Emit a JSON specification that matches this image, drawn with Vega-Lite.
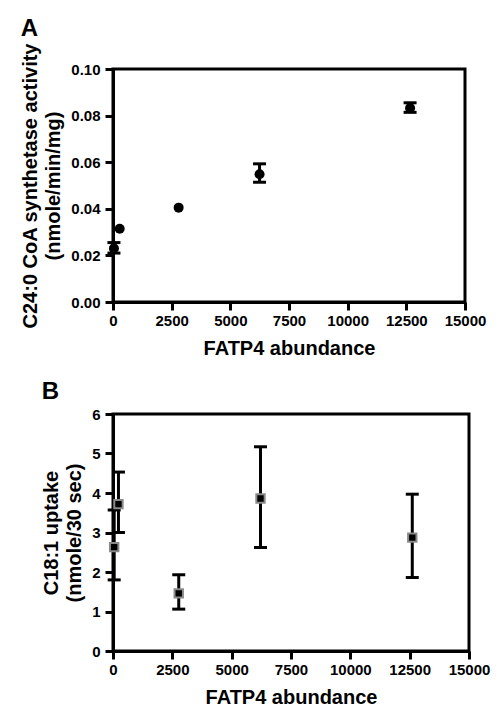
{
  "$schema": "https://vega.github.io/schema/vega-lite/v6.json",
  "padding": {"left": 19, "top": 15, "right": 5, "bottom": 0},
  "spacing": 18,
  "config": {
    "font": "Liberation Sans",
    "view": {"stroke": "black", "strokeWidth": 3},
    "axis": {
      "domainColor": "black", "domainWidth": 3, "tickColor": "black", "tickWidth": 3, "tickSize": 8,
      "grid": false, "labelOverlap": false, "labelFlush": false, "labelFont": "Liberation Sans", "labelFontWeight": "bold", "labelFontSize": 15, "labelColor": "black",
      "titleFont": "Liberation Sans", "titleFontWeight": "bold", "titleFontSize": 20, "titleColor": "black", "titleLimit": 500
    },
    "title": {"font": "Liberation Sans", "fontWeight": "bold", "fontSize": 24, "color": "black", "anchor": "start", "frame": "bounds"}
  },
  "datasets": {
    "a": [
      {"fatp4": 40, "value": 0.023, "lo": 0.021, "hi": 0.0255},
      {"fatp4": 285, "value": 0.0314, "lo": null, "hi": null},
      {"fatp4": 2797, "value": 0.0405, "lo": null, "hi": null},
      {"fatp4": 6245, "value": 0.0548, "lo": 0.0514, "hi": 0.0593},
      {"fatp4": 12660, "value": 0.0832, "lo": 0.0814, "hi": 0.0855}
    ],
    "b": [
      {"fatp4": 50, "value": 2.63, "lo": 1.8, "hi": 3.57},
      {"fatp4": 230, "value": 3.72, "lo": 3.0, "hi": 4.53},
      {"fatp4": 2770, "value": 1.46, "lo": 1.06, "hi": 1.93},
      {"fatp4": 6215, "value": 3.86, "lo": 2.62, "hi": 5.17},
      {"fatp4": 12610, "value": 2.87, "lo": 1.86, "hi": 3.97}
    ]
  },
  "vconcat": [
    {
      "title": {"text": "A", "offset": 2},
      "width": 352,
      "height": 233,
      "data": {"name": "a"},
      "layer": [
        {
          "transform": [{"filter": "datum.lo != null"}],
          "mark": {"type": "rule", "color": "black", "strokeWidth": 3},
          "encoding": {
            "x": {"field": "fatp4", "type": "quantitative", "scale": {"domain": [0, 15000], "nice": false, "zero": false}},
            "y": {"field": "lo", "type": "quantitative", "scale": {"domain": [0, 0.1], "nice": false}},
            "y2": {"field": "hi"}
          }
        },
        {
          "transform": [{"filter": "datum.lo != null"}],
          "mark": {"type": "tick", "orient": "horizontal", "color": "black", "size": 13, "thickness": 3, "opacity": 1},
          "encoding": {
            "x": {"field": "fatp4", "type": "quantitative"},
            "y": {"field": "lo", "type": "quantitative"}
          }
        },
        {
          "transform": [{"filter": "datum.lo != null"}],
          "mark": {"type": "tick", "orient": "horizontal", "color": "black", "size": 13, "thickness": 3, "opacity": 1},
          "encoding": {
            "x": {"field": "fatp4", "type": "quantitative"},
            "y": {"field": "hi", "type": "quantitative"}
          }
        },
        {
          "mark": {"type": "point", "shape": "circle", "filled": true, "color": "black", "size": 100, "opacity": 1},
          "encoding": {
            "x": {"field": "fatp4", "type": "quantitative"},
            "y": {"field": "value", "type": "quantitative"}
          }
        }
      ],
      "encoding": {
        "x": {"field": "fatp4", "type": "quantitative", "scale": {"domain": [0, 15000], "nice": false, "zero": false},
          "axis": {"title": "FATP4 abundance", "values": [0, 2500, 5000, 7500, 10000, 12500, 15000], "format": "d", "labelPadding": 3, "titlePadding": 10}},
        "y": {"field": "value", "type": "quantitative", "scale": {"domain": [0, 0.1], "nice": false},
          "axis": {"title": ["C24:0 CoA synthetase activity", "(nmole/min/mg)"], "values": [0, 0.02, 0.04, 0.06, 0.08, 0.1], "format": ".2f", "labelPadding": 5, "titlePadding": 7, "titleLineHeight": 23}}
      }
    },
    {
      "title": {"text": "B", "offset": 3},
      "width": 356,
      "height": 237,
      "data": {"name": "b"},
      "encoding": {
        "x": {"field": "fatp4", "type": "quantitative", "scale": {"domain": [0, 15000], "nice": false, "zero": false},
          "axis": {"title": "FATP4 abundance", "values": [0, 2500, 5000, 7500, 10000, 12500, 15000], "format": "d", "labelPadding": 3, "titlePadding": 10}},
        "y": {"field": "value", "type": "quantitative", "scale": {"domain": [0, 6], "nice": false},
          "axis": {"title": ["C18:1 uptake", "(nmole/30 sec)"], "values": [0, 1, 2, 3, 4, 5, 6], "tickCount": 7, "format": "d", "labelPadding": 5, "titlePadding": 7, "titleLineHeight": 23}}
      },
      "layer": [
        {
          "mark": {"type": "rule", "color": "black", "strokeWidth": 3},
          "encoding": {
            "y": {"field": "lo", "type": "quantitative", "scale": {"domain": [0, 6], "nice": false},
              "axis": {"title": ["C18:1 uptake", "(nmole/30 sec)"], "values": [0, 1, 2, 3, 4, 5, 6], "tickCount": 7, "format": "d", "labelPadding": 5, "titlePadding": 7, "titleLineHeight": 23}},
            "y2": {"field": "hi"}
          }
        },
        {
          "mark": {"type": "tick", "orient": "horizontal", "color": "black", "size": 13, "thickness": 3, "opacity": 1},
          "encoding": {
            "y": {"field": "lo", "type": "quantitative"}
          }
        },
        {
          "mark": {"type": "tick", "orient": "horizontal", "color": "black", "size": 13, "thickness": 3, "opacity": 1},
          "encoding": {
            "y": {"field": "hi", "type": "quantitative"}
          }
        },
        {
          "mark": {"type": "point", "shape": "square", "filled": true, "fill": "black", "stroke": "#8a8a8a", "strokeWidth": 2, "size": 70, "opacity": 1, "fillOpacity": 1, "strokeOpacity": 1},
          "encoding": {}
        }
      ]
    }
  ]
}
